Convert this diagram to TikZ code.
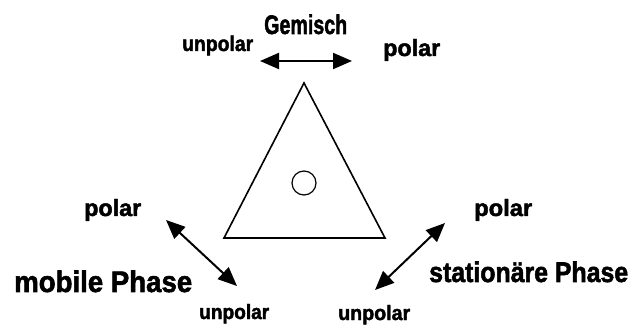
\documentclass[tikz,border=0pt]{standalone}
\usepackage{fontspec}
\setmainfont{Liberation Sans}
\newfontfamily\heavy{Liberation Sans Bold}[FakeBold=2]
\usetikzlibrary{arrows.meta}
\newcommand{\fitword}[3]{\resizebox{#1pt}{#2pt}{\heavy #3}}
\tikzset{
  lbl/.style={inner sep=0pt, anchor=base west},
  dbl/.style={line width=2pt, {Triangle[length=19pt,width=16pt]}-{Triangle[length=19pt,width=16pt]}},
}
\begin{document}
\begin{tikzpicture}[x=1pt,y=-1pt]
\useasboundingbox (0,0) rectangle (631,328);
% top
\node[lbl] (gem) at (264,34) {\fitword{83}{19.5}{Gemisch}};
\node[lbl] (unt) at (182,51) {\fitword{71}{15.5}{unpolar}};
\node[lbl] (pot) at (383,56) {\fitword{57}{17}{polar}};
\coordinate (ta) at (260,61);
\coordinate (tb) at (352,61);
\draw[dbl] (ta) -- (tb);
% triangle
\coordinate (apex) at (304,83);
\coordinate (bl) at (224,238);
\coordinate (br) at (385,238);
\draw[line width=1.6pt, line join=miter] (apex) -- (bl) -- (br) -- cycle;
\node[draw, circle, line width=1.2pt, minimum size=24pt, inner sep=0pt] (c) at (304,183) {};
% left
\node[lbl] (pol) at (84,216) {\fitword{57}{17}{polar}};
\node[lbl] (mob) at (14,292) {\fitword{178}{21.5}{mobile Phase}};
\node[lbl] (unl) at (199,319) {\fitword{70}{15}{unpolar}};
\coordinate (la) at (166,220);
\coordinate (lb) at (237,286);
\draw[dbl] (la) -- (lb);
% right
\node[lbl] (por) at (474,216) {\fitword{58}{17}{polar}};
\node[lbl] (sta) at (429,282) {\fitword{199}{20.5}{stationäre Phase}};
\node[lbl] (unr) at (338,320) {\fitword{72}{15}{unpolar}};
\coordinate (ra) at (445,223);
\coordinate (rb) at (375,290);
\draw[dbl] (ra) -- (rb);
\end{tikzpicture}
\end{document}
